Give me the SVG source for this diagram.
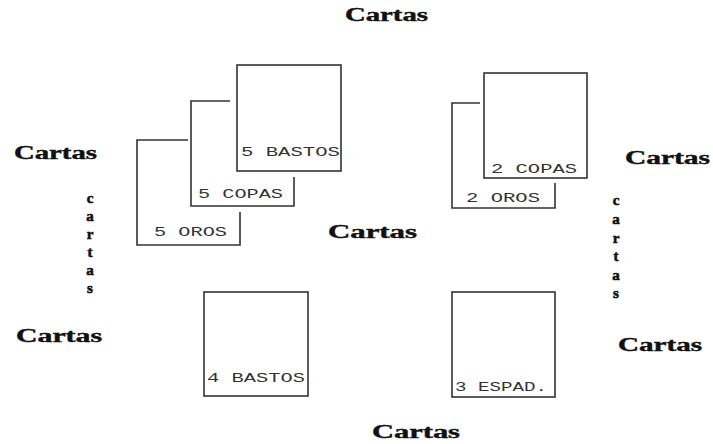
<svg xmlns="http://www.w3.org/2000/svg" width="713" height="444" viewBox="0 0 713 444">
<style>
.card{fill:none;stroke:#333;stroke-width:1.6}
.lbl{font-family:"Liberation Mono","Courier New",monospace;font-size:13px;fill:#333}
.ct{font-family:"Liberation Serif","Times New Roman",serif;font-weight:bold;font-size:18px;fill:#111;stroke:#111;stroke-width:0.4}
.v{font-family:"Liberation Serif","Times New Roman",serif;font-weight:bold;font-size:15px;fill:#111;stroke:#111;stroke-width:0.6;text-anchor:middle}
</style>
<rect width="713" height="444" fill="#fff"/>
<g id="connectors"></g>
<g id="card-5-oros"><path class="card" d="M188,140 H137 V245 H240 V212"/><text class="lbl" x="154" y="236" textLength="73" lengthAdjust="spacingAndGlyphs">5 OROS</text></g>
<g id="card-5-copas"><path class="card" d="M230,101 H191 V206 H294 V177"/><text class="lbl" x="198" y="198" textLength="85" lengthAdjust="spacingAndGlyphs">5 COPAS</text></g>
<g id="card-5-bastos"><rect class="card" x="237" y="65" width="104" height="106"/><text class="lbl" x="241" y="156" textLength="99" lengthAdjust="spacingAndGlyphs">5 BASTOS</text></g>
<g id="card-2-oros"><path class="card" d="M480,103 H452 V208 H555 V183"/><text class="lbl" x="466" y="202" textLength="74" lengthAdjust="spacingAndGlyphs">2 OROS</text></g>
<g id="card-2-copas"><rect class="card" x="484" y="73" width="103" height="105"/><text class="lbl" x="491" y="173" textLength="86" lengthAdjust="spacingAndGlyphs">2 COPAS</text></g>
<g id="card-4-bastos"><rect class="card" x="204" y="292" width="104" height="104"/><text class="lbl" x="207" y="382" textLength="98" lengthAdjust="spacingAndGlyphs">4 BASTOS</text></g>
<g id="card-3-espad"><rect class="card" x="452" y="292" width="103" height="105"/><text class="lbl" x="455" y="391" textLength="92" lengthAdjust="spacingAndGlyphs">3 ESPAD.</text></g>
<g id="labels">
<text class="ct" x="345" y="21" textLength="83" lengthAdjust="spacingAndGlyphs">Cartas</text>
<text class="ct" x="14" y="159" textLength="83" lengthAdjust="spacingAndGlyphs">Cartas</text>
<text class="ct" x="625" y="164" textLength="85" lengthAdjust="spacingAndGlyphs">Cartas</text>
<text class="ct" x="16" y="342" textLength="86" lengthAdjust="spacingAndGlyphs">Cartas</text>
<text class="ct" x="618" y="351" textLength="84" lengthAdjust="spacingAndGlyphs">Cartas</text>
<text class="ct" x="328" y="238" textLength="89" lengthAdjust="spacingAndGlyphs">Cartas</text>
<text class="ct" x="372" y="438" textLength="88" lengthAdjust="spacingAndGlyphs">Cartas</text>
<text class="v"><tspan x="90" y="203">c</tspan><tspan x="90" y="221">a</tspan><tspan x="90" y="239">r</tspan><tspan x="90" y="257">t</tspan><tspan x="90" y="275">a</tspan><tspan x="90" y="293">s</tspan></text>
<text class="v"><tspan x="616" y="205">c</tspan><tspan x="616" y="224">a</tspan><tspan x="616" y="243">r</tspan><tspan x="616" y="261">t</tspan><tspan x="616" y="280">a</tspan><tspan x="616" y="298">s</tspan></text>
</g>
</svg>
